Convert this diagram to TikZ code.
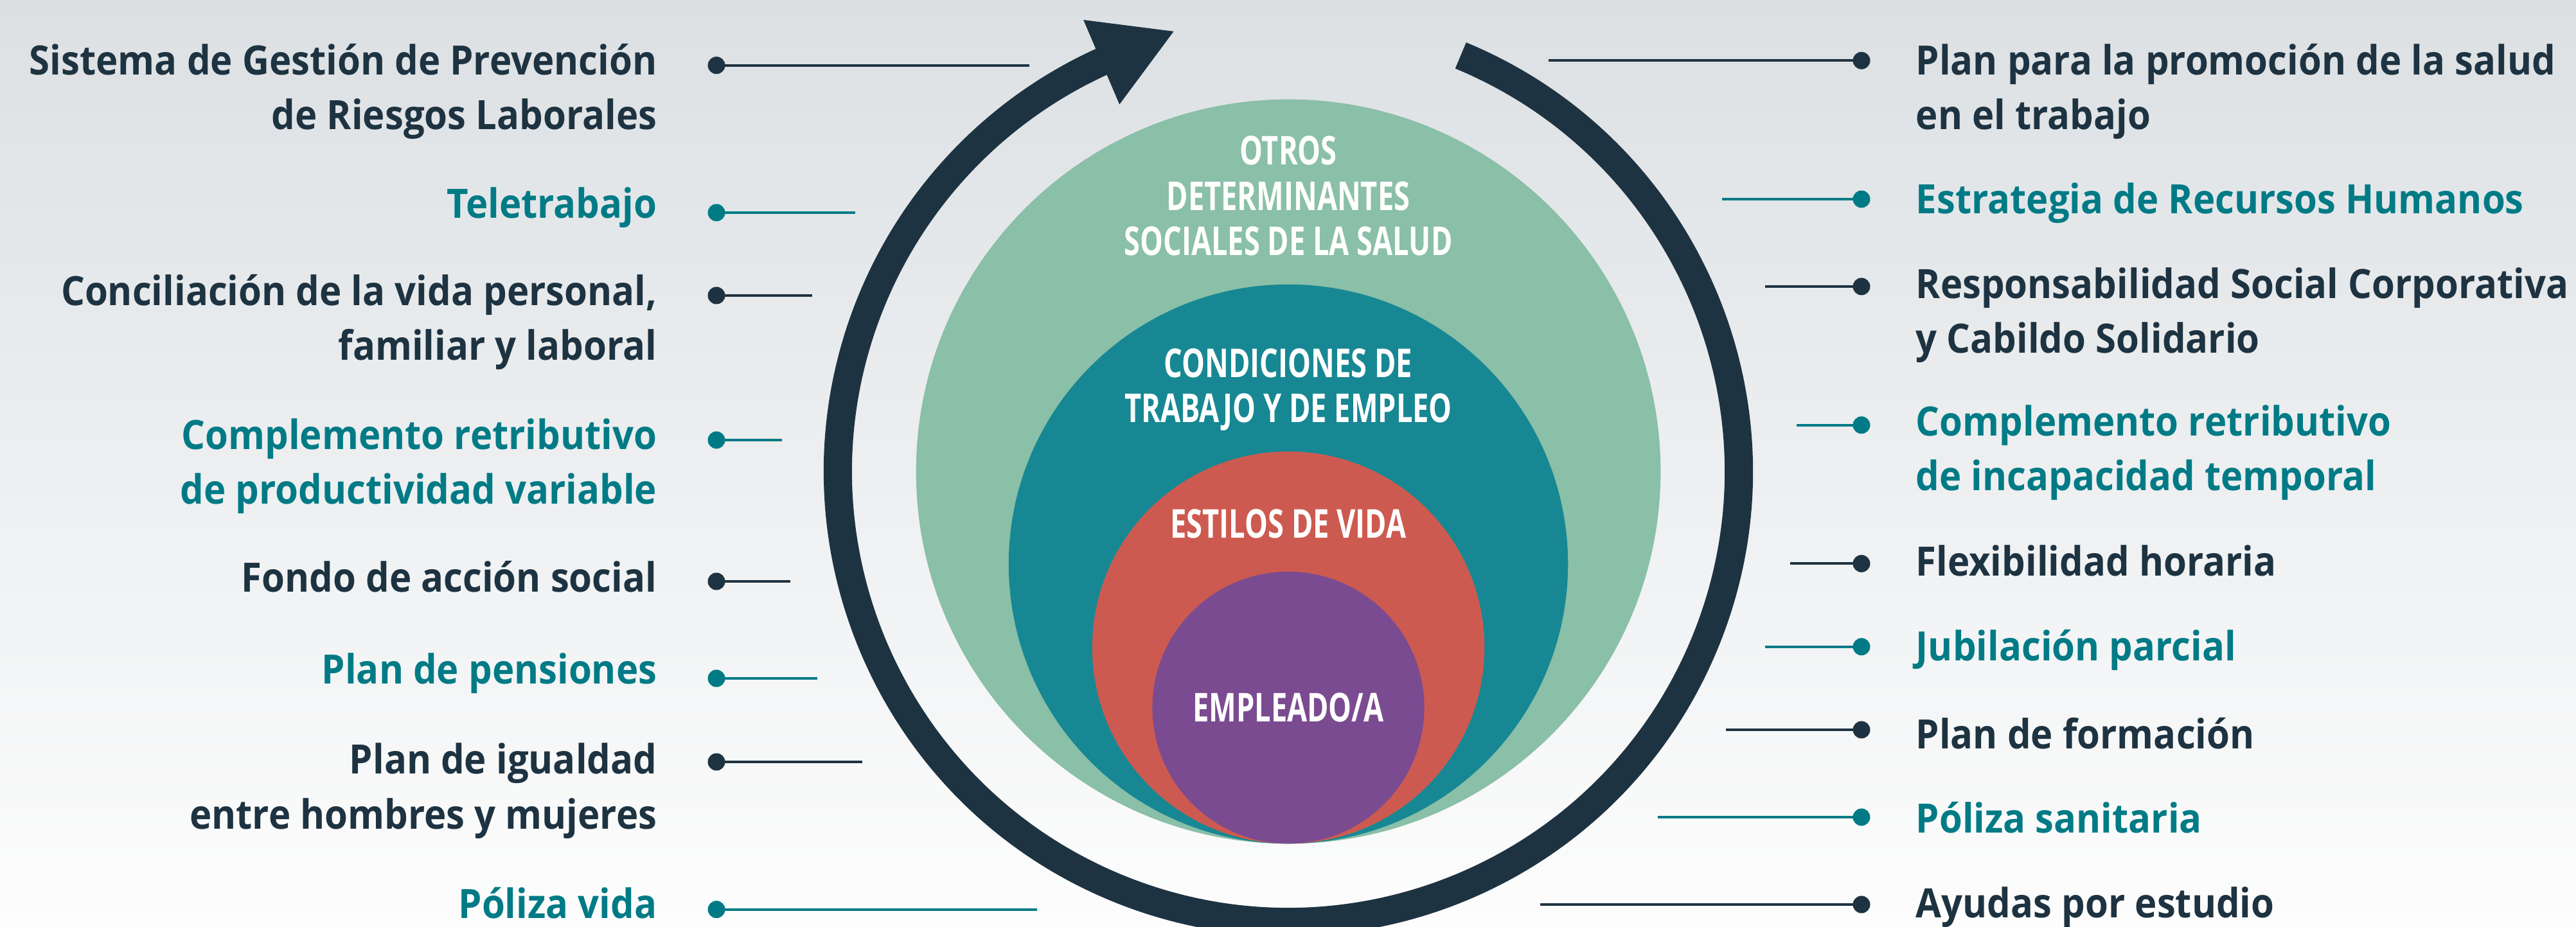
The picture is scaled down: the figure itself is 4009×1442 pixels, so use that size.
\documentclass[tikz,border=0pt]{standalone}
\usepackage{fontspec}
\setmainfont{Open Sans}[FakeStretch=0.922]
\newfontfamily\capfont{Open Sans}[FakeStretch=0.73]
\definecolor{navy}{HTML}{1E3341}
\definecolor{tealtxt}{HTML}{007B86}
\definecolor{cgreen}{HTML}{8ABFA8}
\definecolor{cteal}{HTML}{178893}
\definecolor{cred}{HTML}{CD5A50}
\definecolor{cpurple}{HTML}{7B4B91}
\definecolor{bgtop}{HTML}{DCE0E3}
\definecolor{bgbot}{HTML}{FDFDFD}
\begin{document}
\begin{tikzpicture}[x=0.01cm,y=0.01cm,
  side/.style={font=\fontsize{17.9}{24}\selectfont\bfseries, inner sep=0pt},
  lefttxt/.style={side, anchor=base east},
  righttxt/.style={side, anchor=base west},
  circlbl/.style={font=\capfont\fontsize{17.6}{20}\selectfont\bfseries, text=white, inner sep=0pt, anchor=base},
  dotn/.style={circle, fill, inner sep=0pt, minimum size=0.27cm},
  conn/.style={line width=1.15pt},
  ring/.style={draw=navy, line width=0.44cm},
  disc/.style={circle, inner sep=0pt, draw=none}]
\useasboundingbox (0,0) rectangle (4009,1442);
\clip (0,0) rectangle (4009,1442);
\shade[top color=bgtop, bottom color=bgbot] (0,0) rectangle (4009,1442);

% ring with arrow
\coordinate (C) at (2005,708);
\draw[ring] ([shift={(67.5:701)}]C) arc[start angle=67.5, end angle=-245.8, radius=701];
\fill[navy] ([shift={(114.4:772)}]C) -- ([shift={(104.6:708)}]C) -- ([shift={(114.7:629)}]C) -- cycle;

% nested circles
\node[disc, fill=cgreen, minimum size=11.58cm] (g) at (2005,708) {};
\node[disc, fill=cteal, minimum size=8.70cm] (t) at (2005,564) {};
\node[disc, fill=cred, minimum size=6.10cm] (r) at (2005,434) {};
\node[disc, fill=cpurple, minimum size=4.23cm] (p) at (2005,340.5) {};

\node[circlbl] (g1) at (2005,1185) {OTROS};
\node[circlbl] (g2) at (2005,1114.4) {DETERMINANTES};
\node[circlbl] (g3) at (2005,1044.6) {SOCIALES DE LA SALUD};
\node[circlbl] (t1) at (2005,854.2) {CONDICIONES DE};
\node[circlbl] (t2) at (2005,784.4) {TRABAJO Y DE EMPLEO};
\node[circlbl] (r1) at (2005,604.2) {ESTILOS DE VIDA};
\node[circlbl] (p1) at (2005,318.7) {EMPLEADO/A};

% left items
\begin{scope}[navy]
\node[lefttxt, text=navy] (L1a) at (1023,1325.3) {Sistema de Gestión de Prevención};
\node[lefttxt, text=navy] (L1b) at (1023,1240) {de Riesgos Laborales};
\node[dotn] (dL1) at (1115,1340.3) {};
\coordinate (eL1) at (1602,1340.3);
\draw[conn] (dL1.center) -- (eL1);
\node[lefttxt, text=navy] (L3a) at (1023,966) {Conciliación de la vida personal,};
\node[lefttxt, text=navy] (L3b) at (1023,881) {familiar y laboral};
\node[dotn] (dL3) at (1115,982) {};
\coordinate (eL3) at (1264,982);
\draw[conn] (dL3.center) -- (eL3);
\node[lefttxt, text=navy] (L5a) at (1023,520) {Fondo de acción social};
\node[dotn] (dL5) at (1115,537) {};
\coordinate (eL5) at (1230,537);
\draw[conn] (dL5.center) -- (eL5);
\node[lefttxt, text=navy] (L7a) at (1023,238) {Plan de igualdad};
\node[lefttxt, text=navy] (L7b) at (1023,152) {entre hombres y mujeres};
\node[dotn] (dL7) at (1115,256) {};
\coordinate (eL7) at (1342,256);
\draw[conn] (dL7.center) -- (eL7);
\end{scope}
\begin{scope}[tealtxt]
\node[lefttxt, text=tealtxt] (L2a) at (1023,1102) {Teletrabajo};
\node[dotn] (dL2) at (1115,1111) {};
\coordinate (eL2) at (1331,1111);
\draw[conn] (dL2.center) -- (eL2);
\node[lefttxt, text=tealtxt] (L4a) at (1023,742) {Complemento retributivo};
\node[lefttxt, text=tealtxt] (L4b) at (1023,657) {de productividad variable};
\node[dotn] (dL4) at (1115,757) {};
\coordinate (eL4) at (1217,757);
\draw[conn] (dL4.center) -- (eL4);
\node[lefttxt, text=tealtxt] (L6a) at (1023,377) {Plan de pensiones};
\node[dotn] (dL6) at (1115,386) {};
\coordinate (eL6) at (1272,386);
\draw[conn] (dL6.center) -- (eL6);
\node[lefttxt, text=tealtxt] (L8a) at (1023,13) {Póliza vida};
\node[dotn] (dL8) at (1115,26.3) {};
\coordinate (eL8) at (1613.5,26.3);
\draw[conn] (dL8.center) -- (eL8);
\end{scope}

% right items
\begin{scope}[navy]
\node[righttxt, text=navy] (R1a) at (2981,1325.3) {Plan para la promoción de la salud};
\node[righttxt, text=navy] (R1b) at (2981,1240.3) {en el trabajo};
\node[dotn] (dR1) at (2897,1347.7) {};
\coordinate (eR1) at (2410,1347.7);
\draw[conn] (eR1) -- (dR1.center);
\node[righttxt, text=navy] (R3a) at (2981,977) {Responsabilidad Social Corporativa};
\node[righttxt, text=navy] (R3b) at (2981,892) {y Cabildo Solidario};
\node[dotn] (dR3) at (2897,996) {};
\coordinate (eR3) at (2747,996);
\draw[conn] (eR3) -- (dR3.center);
\node[righttxt, text=navy] (R5a) at (2981,545.5) {Flexibilidad horaria};
\node[dotn] (dR5) at (2897,564.7) {};
\coordinate (eR5) at (2785.7,564.7);
\draw[conn] (eR5) -- (dR5.center);
\node[righttxt, text=navy] (R7a) at (2981,277) {Plan de formación};
\node[dotn] (dR7) at (2897,306) {};
\coordinate (eR7) at (2685.5,306);
\draw[conn] (eR7) -- (dR7.center);
\node[righttxt, text=navy] (R9a) at (2981,14) {Ayudas por estudio};
\node[dotn] (dR9) at (2897,34) {};
\coordinate (eR9) at (2397,34);
\draw[conn] (eR9) -- (dR9.center);
\end{scope}
\begin{scope}[tealtxt]
\node[righttxt, text=tealtxt] (R2a) at (2981,1109) {Estrategia de Recursos Humanos};
\node[dotn] (dR2) at (2897,1132) {};
\coordinate (eR2) at (2680,1132);
\draw[conn] (eR2) -- (dR2.center);
\node[righttxt, text=tealtxt] (R4a) at (2981,763) {Complemento retributivo};
\node[righttxt, text=tealtxt] (R4b) at (2981,678) {de incapacidad temporal};
\node[dotn] (dR4) at (2897,780.3) {};
\coordinate (eR4) at (2795.7,780.3);
\draw[conn] (eR4) -- (dR4.center);
\node[righttxt, text=tealtxt] (R6a) at (2981,413) {Jubilación parcial};
\node[dotn] (dR6) at (2897,435.3) {};
\coordinate (eR6) at (2747,435.3);
\draw[conn] (eR6) -- (dR6.center);
\node[righttxt, text=tealtxt] (R8a) at (2981,146) {Póliza sanitaria};
\node[dotn] (dR8) at (2897,170) {};
\coordinate (eR8) at (2580,170);
\draw[conn] (eR8) -- (dR8.center);
\end{scope}
\end{tikzpicture}
\end{document}
